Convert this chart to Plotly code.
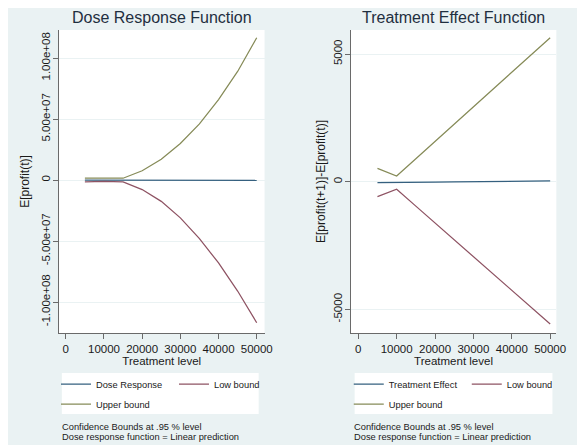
import plotly.graph_objects as go

# ---- data ----
treatment = [5000, 10000, 15000, 20000, 25000, 30000, 35000, 40000, 45000, 50000]

dose_response = [-60000, -50000, -60000, -80000, -100000, -120000, -140000, -160000, -170000, -180000]
dose_low = [-1.5e6, -1.2e6, -1.6e6, -7.8e6, -1.75e7, -3.1e7, -4.8e7, -6.8e7, -9.1e7, -1.17e8]
dose_up = [1.5e6, 1.2e6, 1.5e6, 7.6e6, 1.7e7, 3.0e7, 4.6e7, 6.6e7, 8.9e7, 1.166e8]

effect = [-31, -37, -28, -20, -11, -2, 7, 15, 24, 33]
effect_low = [-587, -297, -956, -1617, -2276, -2935, -3594, -4255, -4913, -5572]
effect_up = [525, 223, 900, 1577, 2254, 2931, 3608, 4285, 4961, 5638]

x_ticks = [0, 10000, 20000, 30000, 40000, 50000]
x_ticktext = ["0", "10000", "20000", "30000", "40000", "50000"]
dose_yticks = [-1e8, -5e7, 0, 5e7, 1e8]
dose_yticktext = ["-1.00e+08", "-5.00e+07", "0", "5.00e+07", "1.00e+08"]
effect_yticks = [-5000, 0, 5000]
effect_yticktext = ["-5000", "0", "5000"]

# ---- styling ----
FONT = "Liberation Sans, Arial, sans-serif"
BG = "#eaf2f3"
C_MID = "#35607f"
C_LOW = "#8e5363"
C_UP = "#868b58"
AXIS_C = "#6a6a6a"
TEXT_C = "#1a1a1a"
TITLE_C = "#1f2f3f"
LW = 1.25

fig = go.Figure()

fig.add_trace(go.Scatter(x=treatment, y=dose_response, mode="lines", name="Dose Response",
                         line=dict(color=C_MID, width=LW), xaxis="x", yaxis="y", legend="legend"))
fig.add_trace(go.Scatter(x=treatment, y=dose_low, mode="lines", name="Low bound",
                         line=dict(color=C_LOW, width=LW), xaxis="x", yaxis="y", legend="legend"))
fig.add_trace(go.Scatter(x=treatment, y=dose_up, mode="lines", name="Upper bound",
                         line=dict(color=C_UP, width=LW), xaxis="x", yaxis="y", legend="legend2"))

fig.add_trace(go.Scatter(x=treatment, y=effect, mode="lines", name="Treatment Effect",
                         line=dict(color=C_MID, width=LW), xaxis="x2", yaxis="y2", legend="legend3"))
fig.add_trace(go.Scatter(x=treatment, y=effect_low, mode="lines", name="Low bound",
                         line=dict(color=C_LOW, width=LW), xaxis="x2", yaxis="y2", legend="legend3"))
fig.add_trace(go.Scatter(x=treatment, y=effect_up, mode="lines", name="Upper bound",
                         line=dict(color=C_UP, width=LW), xaxis="x2", yaxis="y2", legend="legend4"))

# the page body adds an 8px offset; the figure fills the rest of the 585x445 window
OFF = 8
W, H = 585 - OFF, 445 - OFF
def px(v):
    return (v - OFF) / W
def py(v):
    return 1 - (v - OFF) / H

ydom = [py(333), py(30)]

def xaxis_cfg(domain, anchor, rng):
    return dict(domain=domain, anchor=anchor, range=rng, tickmode="array",
                tickvals=x_ticks, ticktext=x_ticktext, ticks="outside", ticklen=5,
                tickcolor=AXIS_C, showline=True, linecolor=AXIS_C, linewidth=1,
                showgrid=False, zeroline=False,
                tickfont=dict(family=FONT, size=11.5, color=TEXT_C),
                title=dict(text="Treatment level", standoff=0,
                           font=dict(family=FONT, size=11.5, color=TEXT_C)))

def yaxis_cfg(domain, anchor, rng, tv, tt, title, standoff):
    return dict(domain=domain, anchor=anchor, range=rng, tickmode="array",
                tickvals=tv, ticktext=tt, tickangle=-90, ticks="outside", ticklen=5,
                ticklabelstandoff=-2,
                tickcolor=AXIS_C, showline=True, linecolor=AXIS_C, linewidth=1,
                showgrid=True, gridcolor=BG, gridwidth=1, zeroline=False,
                tickfont=dict(family=FONT, size=11.5, color=TEXT_C),
                title=dict(text=title, standoff=standoff,
                           font=dict(family=FONT, size=12, color=TEXT_C)))

legend_common = dict(orientation="h", bgcolor="rgba(0,0,0,0)", borderwidth=0,
                     font=dict(family=FONT, size=9.3, color=TEXT_C),
                     xanchor="left", yanchor="middle", entrywidth=73, itemwidth=30,
                     tracegroupgap=0)

def note(text, x, y):
    return dict(text=text, xref="paper", yref="paper", x=px(x), y=py(y),
                xanchor="left", yanchor="middle", showarrow=False,
                font=dict(family=FONT, size=9.3, color=TEXT_C))

fig.update_layout(
    width=W, height=H,
    margin=dict(l=0, r=0, t=0, b=0),
    paper_bgcolor=BG, plot_bgcolor="white",
    showlegend=True,
    xaxis=xaxis_cfg([px(60), px(270)], "y", [-1800, 52050]),
    yaxis=yaxis_cfg(ydom, "x", [-1.254e8, 1.23e8], dose_yticks, dose_yticktext, "E[profit(t)]", 8),
    xaxis2=xaxis_cfg([px(358), px(568)], "y2", [-1967, 51610]),
    yaxis2=yaxis_cfg(ydom, "x2", [-5924, 5940], effect_yticks, effect_yticktext,
                     "E[profit(t+1)]-E[profit(t)]", 3),
    legend=dict(legend_common, x=px(57), y=py(384)),
    legend2=dict(legend_common, x=px(57), y=py(404)),
    legend3=dict(legend_common, x=px(356), y=py(384)),
    legend4=dict(legend_common, x=px(356), y=py(404)),
    shapes=[
        dict(type="rect", xref="paper", yref="paper", x0=px(63), x1=px(264), y0=py(414), y1=py(373),
             fillcolor="white", line=dict(width=0), layer="below"),
        dict(type="rect", xref="paper", yref="paper", x0=px(362), x1=px(564), y0=py(414), y1=py(373),
             fillcolor="white", line=dict(width=0), layer="below"),
    ],
    annotations=[
        dict(text="Dose Response Function", xref="paper", yref="paper", x=px(165), y=py(17),
             xanchor="center", yanchor="middle", showarrow=False,
             font=dict(family=FONT, size=16, color=TITLE_C)),
        dict(text="Treatment Effect Function", xref="paper", yref="paper", x=px(463), y=py(17),
             xanchor="center", yanchor="middle", showarrow=False,
             font=dict(family=FONT, size=16, color=TITLE_C)),
        note("Confidence Bounds at .95 % level", 61, 426.7),
        note("Dose response function = Linear prediction", 61, 437.3),
        note("Confidence Bounds at .95 % level", 359, 426.7),
        note("Dose response function = Linear prediction", 359, 437.3),
    ],
)

fig.write_html("out.html")
